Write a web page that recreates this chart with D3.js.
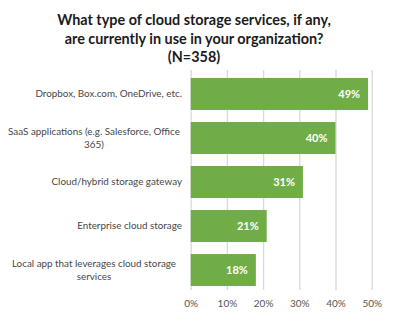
<!DOCTYPE html>
<html>
<head>
<meta charset="utf-8">
<script src="https://cdn.jsdelivr.net/npm/d3@7"></script>
<style>
  html, body { margin: 0; padding: 0; background: #fff; }
  svg { display: block; }
</style>
</head>
<body>
<svg id="chart" width="395" height="326"></svg>
<script>
// Survey question and sample size
const titleLines = [
  "What type of cloud storage services, if any,",
  "are currently in use in your organization?",
  "(N=358)"
];

// Categories (each entry is the wrapped label lines)
const categories = [
  ["Dropbox, Box.com, OneDrive, etc."],
  ["SaaS applications (e.g. Salesforce, Office", "365)"],
  ["Cloud/hybrid storage gateway"],
  ["Enterprise cloud storage"],
  ["Local app that leverages cloud storage", "services"]
];

// Share of respondents (%)
const values = [49, 40, 31, 21, 18];

// Axis ticks (%)
const ticks = [0, 10, 20, 30, 40, 50];

const svg = d3.select("#chart");

const plot = { left: 190.7, right: 371.7, top: 72, bottom: 292 };

const x = d3.scaleLinear().domain([0, 50]).range([plot.left, plot.right]);
const y = d3.scaleBand()
  .domain(d3.range(categories.length))
  .range([plot.top, plot.bottom])
  .paddingInner(0.273)
  .paddingOuter(0.136);

// Title
const title = svg.append("text")
  .attr("fill", "#1b1b1b")
  .attr("font-family", "Lato, 'Open Sans', sans-serif")
  .attr("font-weight", "bold")
  .attr("font-size", 14.4)
  .attr("text-anchor", "middle");
title.selectAll("tspan")
  .data(titleLines)
  .join("tspan")
  .attr("x", 194)
  .attr("y", (d, i) => 25 + i * 18.5)
  .text(d => d);

// Vertical gridlines
const grid = d3.axisBottom(x)
  .tickValues(ticks)
  .tickSize(-(plot.bottom - plot.top))
  .tickFormat("");
svg.append("g")
  .attr("transform", `translate(0,${plot.bottom - 2})`)
  .call(grid)
  .call(g => g.select(".domain").remove())
  .call(g => g.selectAll(".tick line")
    .attr("stroke", "#d9d9d9")
    .attr("stroke-width", 1.3));

// Tick labels
const axis = d3.axisBottom(x)
  .tickValues(ticks)
  .tickSize(0)
  .tickPadding(0)
  .tickFormat(d => d + "%");
svg.append("g")
  .attr("transform", `translate(0,${plot.bottom + 15})`)
  .call(axis)
  .call(g => g.select(".domain").remove())
  .call(g => g.selectAll(".tick text")
    .attr("fill", "#555")
    .attr("font-family", "Lato, 'Open Sans', sans-serif")
    .attr("font-size", 10)
    .attr("dy", 0));

// Bars
svg.append("g")
  .selectAll("rect")
  .data(values)
  .join("rect")
  .attr("x", x(0))
  .attr("y", (d, i) => y(i))
  .attr("width", d => x(d) - x(0))
  .attr("height", y.bandwidth())
  .attr("fill", "#70ad47");

// Value labels inside bar ends
svg.append("g")
  .selectAll("text")
  .data(values)
  .join("text")
  .attr("x", d => x(d) - 8)
  .attr("y", (d, i) => y(i) + y.bandwidth() / 2)
  .attr("dy", "0.36em")
  .attr("text-anchor", "end")
  .attr("fill", "#fff")
  .attr("font-family", "Lato, 'Open Sans', sans-serif")
  .attr("font-weight", "bold")
  .attr("font-size", 11)
  .text(d => d + "%");

// Category labels: single lines right-aligned, wrapped lines centred in the label box
const labelRight = 182, labelCenter = 94, lineGap = 13.4;
const catG = svg.append("g")
  .attr("fill", "#474747")
  .attr("font-family", "Lato, 'Open Sans', sans-serif")
  .attr("font-size", 9.85);
categories.forEach((lines, i) => {
  const cy = y(i) + y.bandwidth() / 2;
  const multi = lines.length > 1;
  const t = catG.append("text")
    .attr("text-anchor", multi ? "middle" : "end");
  t.selectAll("tspan")
    .data(lines)
    .join("tspan")
    .attr("x", multi ? labelCenter : labelRight)
    .attr("y", (d, j) => cy + (j - (lines.length - 1) / 2) * lineGap)
    .attr("dy", "0.35em")
    .text(d => d);
});
</script>
</body>
</html>
